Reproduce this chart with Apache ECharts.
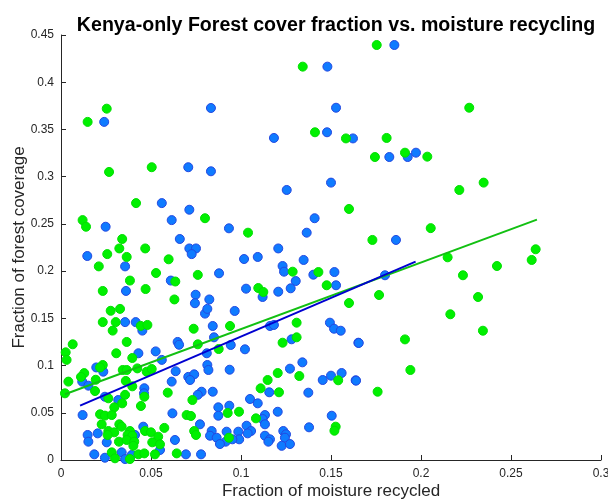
<!DOCTYPE html>
<html><head><meta charset="utf-8">
<script src="https://cdn.jsdelivr.net/npm/echarts@6/dist/echarts.min.js"></script>
<style>html,body{margin:0;padding:0;background:#fff}#c{width:608px;height:500px}</style>
</head><body><div id="c"></div>
<script>
const titleText = "Kenya-only Forest cover fraction vs. moisture recycling";
const xLabel = "Fraction of moisture recycled";
const yLabel = "Fraction of forest coverage";
const xTicks = ["0","0.05","0.1","0.15","0.2","0.25","0.3"];
const yTicks = ["0","0.05","0.1","0.15","0.2","0.25","0.3","0.35","0.4","0.45"];

const bluePoints = [
[0.024,0.358],[0.0707,0.31],[0.056,0.272],[0.0713,0.265],[0.0248,0.247],[0.0615,0.254],[0.066,0.234],[0.0713,0.224],[0.075,0.224],
[0.0146,0.216],[0.0726,0.218],[0.0356,0.205],[0.061,0.19],[0.0361,0.179],[0.0748,0.175],[0.0744,0.166],[0.0800,0.155],[0.0356,0.146],[0.0415,0.146],[0.0452,0.137],[0.0648,0.125],[0.0656,0.122],
[0.043,0.113],[0.0526,0.115],[0.0196,0.098],[0.0235,0.0935],[0.0118,0.083],[0.0152,0.0787],[0.056,0.106],[0.0637,0.094],[0.0707,0.088],[0.074,0.0907],[0.0717,0.0847],[0.0615,0.083],[0.0463,0.076],[0.0461,0.0706],[0.0244,0.067],[0.0318,0.0635],[0.0781,0.0723],[0.076,0.069],[0.012,0.0476],[0.0619,0.0494],[0.0457,0.0353],[0.0772,0.0378],[0.0411,0.0265],[0.0148,0.0265],[0.0152,0.0194],[0.0204,0.0282],[0.0254,0.0187],[0.055,0.0106],[0.0633,0.0212],[0.0185,0.006],[0.0244,0.0024],[0.0337,0.0081],[0.0356,0.001],[0.0393,0.0053],[0.0694,0.006],[0.0778,0.006],
[0.148,0.4165],[0.0833,0.3727],[0.1528,0.373],[0.1478,0.347],[0.1183,0.341],[0.1622,0.3405],[0.0833,0.3057],[0.15,0.2937],[0.1254,0.2859],[0.1409,0.256],[0.0933,0.2453],[0.1365,0.2407],[0.1207,0.224],
[0.1017,0.2128],[0.1093,0.215],[0.1348,0.2118],[0.1231,0.2054],[0.1239,0.1994],[0.0878,0.1977],[0.1402,0.1962],[0.1519,0.199],[0.1304,0.1895],[0.1528,0.185],[0.1028,0.1814],[0.112,0.1726],[0.1207,0.1782],[0.1276,0.1818],[0.0824,0.170],[0.0813,0.16],[0.0965,0.1578],[0.0843,0.1419],[0.1161,0.1419],[0.1183,0.143],[0.1494,0.1454],[0.1517,0.139],[0.1554,0.1369],[0.085,0.1299],[0.1281,0.1278],[0.0943,0.1218],[0.1022,0.1172],[0.1652,0.1242],
[0.081,0.113],[0.0813,0.1006],[0.0819,0.0953],[0.0937,0.0956],[0.1341,0.1034],[0.1272,0.0967],[0.1454,0.0847],[0.15,0.0893],[0.1559,0.0921],[0.1637,0.0844],[0.0843,0.0723],[0.1157,0.0717],[0.1374,0.0713],[0.105,0.0646],[0.1093,0.060],[0.0874,0.0558],[0.0935,0.0575],[0.0874,0.0469],[0.1133,0.0476],[0.112,0.0434],[0.1133,0.0378],[0.1204,0.0511],[0.1504,0.0469],[0.1378,0.0346],[0.1031,0.0363],[0.1056,0.0307],[0.1037,0.0282],[0.0985,0.03],[0.099,0.0219],[0.0952,0.0219],[0.092,0.03],[0.0915,0.0194],[0.0837,0.0307],[0.0828,0.0257],[0.0865,0.0236],[0.0883,0.0169],[0.1235,0.0307],[0.125,0.0272],[0.1244,0.0236],[0.1133,0.0257],[0.1161,0.0219],[0.1152,0.0194],[0.1226,0.015],[0.1272,0.0169],
[0.1852,0.4394],[0.1824,0.3208],[0.1926,0.3208],[0.1972,0.3254],[0.1861,0.233],[0.18,0.1956],[0.1654,0.1239],[0.1639,0.084]
];

const greenPoints = [
[0.0254,0.372],[0.0148,0.358],[0.0267,0.305],[0.0504,0.31],[0.0417,0.272],[0.012,0.254],[0.0139,0.247],[0.0800,0.256],[0.034,0.234],[0.0324,0.224],[0.0468,0.224],
[0.0257,0.218],[0.0365,0.215],[0.0598,0.2125],[0.021,0.205],[0.0528,0.198],[0.076,0.196],[0.0383,0.19],[0.0635,0.189],[0.0232,0.179],[0.047,0.181],[0.063,0.170],[0.0276,0.158],[0.0328,0.160],[0.0232,0.146],[0.0304,0.146],[0.0443,0.142],[0.048,0.143],[0.0287,0.137],[0.0737,0.139],[0.0065,0.1225],[0.0365,0.125],[0.076,0.1225],
[0.0026,0.114],[0.0031,0.106],[0.0307,0.113],[0.0396,0.108],[0.0232,0.1006],[0.0217,0.098],[0.0129,0.092],[0.0111,0.088],[0.0041,0.083],[0.0193,0.085],[0.0343,0.0953],[0.0365,0.0953],[0.0424,0.097],[0.0476,0.0935],[0.0504,0.0964],[0.036,0.0837],[0.0396,0.078],[0.0189,0.073],[0.0463,0.067],[0.0356,0.069],[0.0593,0.0713],[0.0263,0.0653],[0.034,0.060],[0.0296,0.0558],[0.0444,0.0572],[0.073,0.0635],[0.0217,0.0484],[0.0244,0.047],[0.0282,0.0476],[0.0698,0.0476],[0.0722,0.0466],[0.0226,0.0378],[0.0324,0.0378],[0.0337,0.0353],[0.0574,0.034],[0.0263,0.0307],[0.0296,0.0293],[0.0259,0.0265],[0.0383,0.0307],[0.037,0.0265],[0.0396,0.0257],[0.0467,0.0307],[0.05,0.0293],[0.054,0.0247],[0.0322,0.0194],[0.0365,0.0212],[0.0407,0.0194],[0.0402,0.015],[0.0507,0.0187],[0.055,0.0166],[0.074,0.0307],[0.075,0.0265],[0.0282,0.0081],[0.03,0.0018],[0.0383,0.001],[0.043,0.006],[0.0463,0.007],[0.0522,0.006],[0.0643,0.007],[0.0022,0.0706],
[0.1343,0.4165],[0.1411,0.347],[0.1583,0.3405],[0.16,0.2658],[0.1039,0.2407],[0.1287,0.1994],[0.143,0.199],[0.1476,0.185],[0.1096,0.1821],[0.1124,0.1779],[0.16,0.1662],[0.0939,0.1419],[0.1309,0.1454],[0.1231,0.1242],[0.1309,0.1299],[0.0876,0.1175],
[0.1204,0.0921],[0.1324,0.0889],[0.1148,0.0847],[0.154,0.0844],[0.1109,0.0759],[0.1211,0.0717],[0.0926,0.0498],[0.0989,0.0511],[0.1083,0.0441],[0.1526,0.0353],[0.1519,0.031],[0.0933,0.0236],
[0.1754,0.4394],[0.2268,0.373],[0.1809,0.341],[0.1744,0.3208],[0.1911,0.3254],[0.2035,0.3212],[0.2348,0.2937],[0.2213,0.2859],[0.2054,0.2455],[0.173,0.233],[0.2148,0.2146],[0.2637,0.2231],[0.2615,0.2118],[0.2422,0.2054],[0.2233,0.1956],[0.1767,0.1747],[0.2317,0.1726],[0.2163,0.1543],[0.2344,0.1369],[0.1911,0.1277],[0.1941,0.0953],[0.1759,0.0723]
];

// fitted regression line endpoints
const blueFit = [[0.0106,0.0575],[0.197,0.210]];
const greenFit = [[0.0022,0.0696],[0.2644,0.2545]];

const chart = echarts.init(document.getElementById('c'), null, {renderer:'canvas'});
const font = "Liberation Sans, Arial, Helvetica, sans-serif";
const axisCol = '#262626';
chart.setOption({
  animation:false,
  title:{text:titleText,left:331,textAlign:'center',top:11,
    textStyle:{fontFamily:font,fontSize:19.6,fontWeight:'bold',color:'#000'}},
  grid:{left:61,right:7,top:35,bottom:40,containLabel:false,outerBoundsMode:'none'},
  xAxis:{type:'value',min:0,max:0.3,interval:0.05,
    name:xLabel,nameLocation:'middle',nameGap:23,nameMoveOverlap:false,
    nameTextStyle:{fontFamily:font,fontSize:17,color:'#262626'},
    axisLine:{show:true,onZero:false,lineStyle:{color:axisCol,width:1}},
    axisTick:{show:true,inside:true,length:5,lineStyle:{color:axisCol}},
    axisLabel:{fontFamily:font,fontSize:12,color:axisCol,margin:8,
      formatter:(v)=>xTicks[Math.round(v/0.05)]},
    splitLine:{show:false}},
  yAxis:{type:'value',min:0,max:0.45,interval:0.05,
    name:yLabel,nameLocation:'middle',nameGap:33,nameRotate:90,nameMoveOverlap:false,
    nameTextStyle:{fontFamily:font,fontSize:17,color:'#262626'},
    axisLine:{show:true,onZero:false,lineStyle:{color:axisCol,width:1}},
    axisTick:{show:true,inside:true,length:5,lineStyle:{color:axisCol}},
    axisLabel:{fontFamily:font,fontSize:12,color:axisCol,margin:7,
      formatter:(v)=>yTicks[Math.round(v/0.05)]},
    splitLine:{show:false}},
  series:[
    {type:'scatter',data:bluePoints,symbolSize:9,z:2,
      itemStyle:{color:'#0f7bff',borderColor:'#2448e0',borderWidth:1,opacity:1}},
    {type:'scatter',data:greenPoints,symbolSize:9,z:3,
      itemStyle:{color:'#00f000',borderColor:'#00dd00',borderWidth:1,opacity:1}},
    {type:'line',data:greenFit,symbol:'none',z:4,lineStyle:{color:'#12c012',width:2}},
    {type:'line',data:blueFit,symbol:'none',z:5,lineStyle:{color:'#0000d0',width:2}}
  ]
});
</script></body></html>
